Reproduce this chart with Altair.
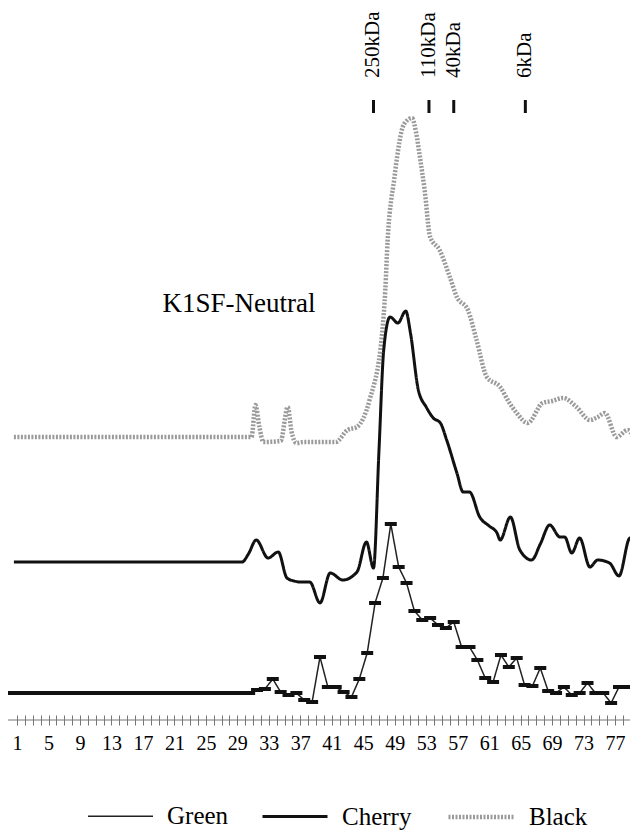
import altair as alt
import pandas as pd

# ---------------- data ----------------
series_names = ["Green", "Cherry", "Black"]
baseline_offset = {"Green": 27, "Cherry": 158, "Black": 283}

# Green: one reading per fraction (markers)
green_fraction = list(range(0, 79))
green_value = [0] * 31 + [
    3, 4, 14, 1, -2, 0, -7, -9, 36, 6,
    6, 1, -4, 14, 40, 90, 115, 169, 126, 110,
    82, 73, 75, 68, 65, 71, 46, 46, 33, 15,
    11, 38, 26, 35, 8, 7, 25, 2, 0, 6,
    -2, 0, 10, 0, 0, -10, 6, 6,
]

# Cherry: continuous trace
cherry_fraction = [0.6, 29.6, 30.4, 31.4, 32.9, 34.2, 35.3, 36.2, 37.0, 38.2,
                   39.5, 40.8, 42.4, 44.2, 45.4, 46.3, 47.0, 47.6, 48.4, 49.4,
                   50.4, 51.0, 52.0, 53.0, 53.9, 54.8, 55.6, 56.9, 57.7, 58.5,
                   59.8, 61.0, 62.0, 62.4, 63.7, 64.9, 66.4, 67.5, 68.7, 70.0,
                   70.6, 71.5, 72.5, 73.8, 74.8, 76.3, 77.5, 78.9, 80.0]
cherry_value = [0, 0, 8, 22, 4, 10, -16, -19, -20, -20,
                -41, -11, -18, -10, 20, -6, 112, 212, 245, 239,
                251, 229, 172, 155, 144, 139, 122, 89, 70, 70,
                45, 36, 29, 22, 45, 12, 2, 18, 37, 25,
                25, 9, 24, -5, 2, -1, -14, 24, 15]

# Black: continuous trace
black_fraction = [0.6, 30.8, 31.3, 31.8, 32.3, 34.5, 35.4, 35.9, 36.5, 37.5,
                  40.0, 41.5, 43.0, 44.2, 45.8, 47.4, 47.8, 48.1, 48.6, 48.8,
                  49.3, 49.9, 50.5, 51.2, 51.7, 52.2, 52.8, 53.5, 54.7, 56.0,
                  56.9, 58.3, 59.4, 60.7, 62.4, 63.5, 64.5, 65.9, 67.8, 69.0,
                  70.4, 72.1, 73.8, 74.8, 75.7, 77.2, 78.6, 79.8]
black_value = [0, 0, 32, 10, -5, -4, 30, 5, -6, -5,
               -5, -5, 7, 10, 37, 104, 147, 197, 240, 250,
               280, 307, 316, 319, 305, 280, 247, 200, 187, 160,
               140, 127, 97, 60, 50, 35, 24, 14, 34, 36,
               39, 30, 17, 20, 24, 0, 7, -10]

# Molecular-weight markers
marker_names = ["250kDa", "110kDa", "40kDa", "6kDa"]
marker_fraction = [46.3, 53.35, 56.5, 65.6]

tick_values = list(range(1, 80))

# ---------------- frames ----------------
green_df = pd.DataFrame({"series": "Green",
                         "fraction": [f + 0.5 for f in green_fraction],
                         "level": [v + baseline_offset["Green"] for v in green_value]})
cherry_df = pd.DataFrame({"series": "Cherry", "fraction": cherry_fraction,
                          "level": [v + baseline_offset["Cherry"] for v in cherry_value]})
black_df = pd.DataFrame({"series": "Black", "fraction": black_fraction,
                         "level": [v + baseline_offset["Black"] for v in black_value]})
marker_df = pd.DataFrame({"name": marker_names, "fraction": marker_fraction})

W, H = 622, 712
SERIF = "Liberation Serif"

x_scale = alt.Scale(domain=[-0.15, 78.9], nice=False, zero=False)
y_scale = alt.Scale(domain=[0, 712], nice=False, zero=False)

x_axis = alt.Axis(values=tick_values,
                  labelExpr="(datum.value - 1) % 4 == 0 ? datum.label : ''",
                  domain=False, grid=False, tickSize=10, offset=-5,
                  tickColor="#777", tickWidth=1,
                  labelFont=SERIF, labelFontSize=20, labelColor="black",
                  labelPadding=8, labelOverlap=False, labelFlush=False,
                  labelBound=False, title=None)

legend = alt.Legend(orient="none", legendX=79, legendY=774, direction="horizontal",
                    title=None, symbolType="stroke", symbolSize=4225,
                    labelFont=SERIF, labelFontSize=25, labelColor="black",
                    labelOffset=13, columnPadding=27)


def X():
    return alt.X("fraction:Q", scale=x_scale, axis=x_axis)


def enc():
    return dict(
        x=X(),
        y=alt.Y("level:Q", scale=y_scale, axis=None),
        color=alt.Color("series:N", scale=alt.Scale(domain=series_names,
                        range=["#222222", "#111111", "#9a9a9a"]), legend=legend),
        strokeWidth=alt.StrokeWidth("series:N", scale=alt.Scale(domain=series_names,
                        range=[1.5, 4.5, 3]), legend=legend),
        strokeDash=alt.StrokeDash("series:N", scale=alt.Scale(domain=series_names,
                        range=[[1, 0], [1, 0], [2, 1.5]]), legend=legend),
    )


black_line = alt.Chart(black_df).mark_line(interpolate="monotone", clip=True).encode(**enc())
cherry_line = alt.Chart(cherry_df).mark_line(interpolate="monotone", clip=True).encode(**enc())
green_line = alt.Chart(green_df).mark_line(clip=True).encode(**enc())
green_marks = alt.Chart(green_df).mark_tick(orient="horizontal", size=12, thickness=4,
                                            color="#111111", opacity=1, clip=True).encode(
    x=X(),
    y=alt.Y("level:Q", scale=y_scale, axis=None),
)

axis_line = alt.Chart(pd.DataFrame({"a": [0]})).mark_rule(color="#777", strokeWidth=1).encode(
    x=alt.value(0), x2=alt.value(W), y=alt.value(H))

marker_ticks = alt.Chart(marker_df).mark_rule(color="#111", strokeWidth=3).encode(
    x=X(), y=alt.value(92), y2=alt.value(105))
marker_text = alt.Chart(marker_df).mark_text(angle=270, align="left", baseline="middle",
                                             font=SERIF, fontSize=21, color="black").encode(
    x=X(), y=alt.value(70), text="name:N")

title_text = alt.Chart(pd.DataFrame({"t": ["K1SF-Neutral"]})).mark_text(
    font=SERIF, fontSize=27, color="black").encode(
    x=alt.value(231), y=alt.value(296), text="t:N")

chart = alt.layer(
    axis_line, black_line, cherry_line, green_line, green_marks,
    marker_ticks, marker_text, title_text,
).properties(
    width=W, height=H,
    autosize=alt.AutoSizeParams(type="none"),
    padding={"left": 0, "top": 0, "right": 0, "bottom": 118},
    background="white",
).configure_view(stroke=None).configure_axis(labelOverlap=False)

chart.save("out.html", embed_options={"renderer": "svg", "actions": False})
